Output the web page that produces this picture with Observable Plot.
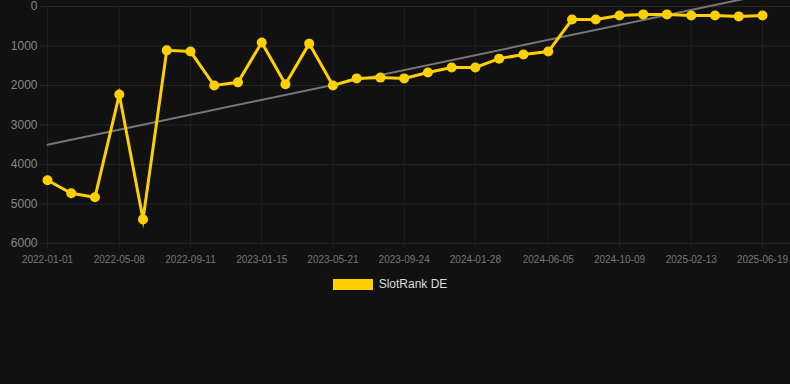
<!DOCTYPE html>
<html>
<head>
<meta charset="utf-8">
<script src="https://cdn.jsdelivr.net/npm/d3@7"></script>
<script src="https://cdn.jsdelivr.net/npm/@observablehq/plot@0.6"></script>
<style>
  html, body { margin: 0; padding: 0; background: #111111; }
  body { width: 790px; height: 384px; overflow: hidden; font-family: "Liberation Sans", Arial, sans-serif; }
  #legend { display: flex; justify-content: center; align-items: center; height: 30px; margin-top: -1px; padding-right: 10px; }
  #legend .sw { width: 40px; height: 11px; background: #FFD000; margin-right: 6px; }
  #legend .lb { color: #dddddd; font-size: 12px; }
</style>
</head>
<body>
<div id="chart"></div>
<div id="legend"><div class="sw"></div><div class="lb">SlotRank DE</div></div>
<script>
const dates = [
  "2022-01-01","2022-02-12","2022-03-26","2022-05-08","2022-06-19","2022-07-31",
  "2022-09-11","2022-10-23","2022-12-04","2023-01-15","2023-02-26","2023-04-09",
  "2023-05-21","2023-07-02","2023-08-13","2023-09-24","2023-11-05","2023-12-17",
  "2024-01-28","2024-03-10","2024-04-22","2024-06-05","2024-07-17","2024-08-28",
  "2024-10-09","2024-11-20","2025-01-01","2025-02-13","2025-03-27","2025-05-08",
  "2025-06-19"
];
const ranks = [
  4400, 4730, 4830, 2230, 5390, 1110,
  1140, 2000, 1920, 910, 1970, 940,
  2000, 1820, 1800, 1820, 1670, 1545,
  1545, 1320, 1215, 1140, 330, 330,
  230, 200, 200, 230, 230, 250,
  230
];
const trendDates = ["2022-01-01", "2025-06-19"];
const trendValues = [3500, -290];
const xTickLabels = ["2022-01-01","2022-05-08","2022-09-11","2023-01-15","2023-05-21","2023-09-24","2024-01-28","2024-06-05","2024-10-09","2025-02-13","2025-06-19"];
const yTicks = [0, 1000, 2000, 3000, 4000, 5000, 6000];
const gridSpan = ["2021-12-20", "2025-08-10"];

const parse = d3.utcParse("%Y-%m-%d");
const data = dates.map((d, i) => ({date: parse(d), rank: ranks[i]}));
const trend = trendDates.map((d, i) => ({date: parse(d), rank: trendValues[i]}));
const xTicks = xTickLabels.map(parse);
const fmt = d3.utcFormat("%Y-%m-%d");

const chart = Plot.plot({
  width: 790,
  height: 270,
  marginLeft: 47,
  marginRight: 28,
  marginTop: 6,
  marginBottom: 27,
  style: {background: "#111111", fontFamily: "Liberation Sans, Arial, sans-serif"},
  x: {type: "utc", domain: [parse(dates[0]), parse(dates[dates.length - 1])], label: null},
  y: {domain: [0, 6000], reverse: true, label: null},
  marks: [
    Plot.ruleY(yTicks, {x1: parse(gridSpan[0]), x2: parse(gridSpan[1]), stroke: "#262626", strokeWidth: 1}),
    Plot.ruleX(xTicks, {y1: 0, y2: 6000, stroke: "#1f1f1f", strokeWidth: 1}),
    Plot.axisX({ticks: xTicks, tickFormat: fmt, tickSize: 5, tickPadding: 7, stroke: "#1f1f1f", color: "#777777", fontSize: 10, label: null}),
    Plot.axisY({ticks: yTicks, tickFormat: d3.format("d"), tickSize: 0, tickPadding: 10, color: "#888888", fontSize: 12, label: null}),
    Plot.line(trend, {x: "date", y: "rank", stroke: "#777777", strokeWidth: 2}),
    Plot.line(data, {x: "date", y: "rank", stroke: "#FFD000", strokeWidth: 3, strokeLinejoin: "miter", strokeMiterlimit: 10}),
    Plot.dot(data, {x: "date", y: "rank", r: 5, fill: "#FFD000", stroke: "none"})
  ]
});
document.getElementById("chart").appendChild(chart);
</script>
</body>
</html>
